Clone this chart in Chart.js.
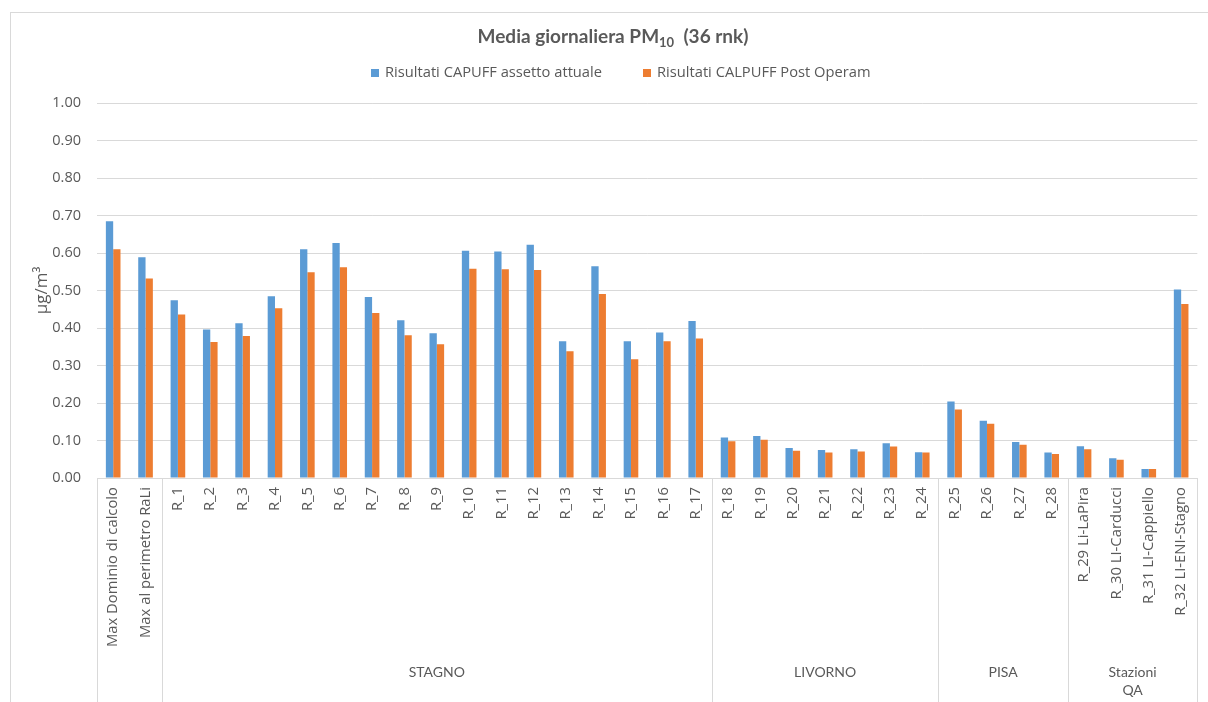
<!DOCTYPE html>
<html>
<head>
<meta charset="utf-8">
<script src="https://cdn.jsdelivr.net/npm/chart.js@4.4.1/dist/chart.umd.min.js"></script>
<style>
  html, body { margin: 0; padding: 0; background: #ffffff; }
  #wrap { position: relative; width: 1208px; height: 702px; }
</style>
</head>
<body>
<div id="wrap"><canvas id="chart" width="1208" height="702"></canvas></div>
<script>
// Receptor categories (inner axis level)
const categories = [
  'Max Dominio di calcolo', 'Max al perimetro RaLi',
  'R_1', 'R_2', 'R_3', 'R_4', 'R_5', 'R_6', 'R_7', 'R_8', 'R_9', 'R_10',
  'R_11', 'R_12', 'R_13', 'R_14', 'R_15', 'R_16', 'R_17',
  'R_18', 'R_19', 'R_20', 'R_21', 'R_22', 'R_23', 'R_24',
  'R_25', 'R_26', 'R_27', 'R_28',
  'R_29 Li-LaPira', 'R_30 LI-Carducci', 'R_31 LI-Cappiello', 'R_32 LI-ENI-Stagno'
];

// Outer axis level: group names and how many categories each spans
const groupNames = [[''], ['STAGNO'], ['LIVORNO'], ['PISA'], ['Stazioni', 'QA']];
const groupSizes = [2, 17, 7, 4, 4];

// Series values, µg/m³
const attuale = [
  0.685, 0.589,
  0.474, 0.396, 0.413, 0.485, 0.610, 0.627, 0.483, 0.421, 0.386, 0.606,
  0.604, 0.622, 0.365, 0.565, 0.365, 0.388, 0.419,
  0.108, 0.112, 0.080, 0.075, 0.077, 0.093, 0.069,
  0.204, 0.153, 0.096, 0.068,
  0.085, 0.053, 0.024, 0.503
];
const postOperam = [
  0.610, 0.532,
  0.436, 0.363, 0.379, 0.453, 0.549, 0.562, 0.440, 0.381, 0.357, 0.558,
  0.557, 0.555, 0.338, 0.491, 0.317, 0.365, 0.372,
  0.098, 0.102, 0.073, 0.068, 0.071, 0.084, 0.068,
  0.183, 0.145, 0.089, 0.064,
  0.077, 0.049, 0.024, 0.464
];

const seriesLabels = ['Risultati CAPUFF assetto attuale', 'Risultati CALPUFF Post Operam'];
const seriesColors = ['#5B9BD5', '#ED7D31'];
const yTicks = [0, 0.1, 0.2, 0.3, 0.4, 0.5, 0.6, 0.7, 0.8, 0.9, 1.0];

const TEXT = '#595959';
const GRID = '#D9D9D9';
const FONT = 'Lato, "Open Sans", sans-serif';
const FONT_WIDE = '"Open Sans", Lato, sans-serif';

// Draws the frame, title, legend, y-axis title and the grouped category axis
const decorations = {
  id: 'decorations',
  afterDraw(chart) {
    const ctx = chart.ctx;
    const area = chart.chartArea;
    const x = chart.scales.x;
    ctx.save();

    // chart frame
    ctx.strokeStyle = GRID;
    ctx.lineWidth = 1;
    ctx.strokeRect(10.5, 12.5, 1300, 800);

    // title with subscript
    const cx = 613;
    const parts = [
      { t: 'Media giornaliera PM', f: 'bold 19px ' + FONT, dy: 0 },
      { t: '10', f: 'bold 13px ' + FONT, dy: 4 },
      { t: '  (36 rnk)', f: 'bold 19px ' + FONT, dy: 0 }
    ];
    let total = 0;
    parts.forEach(p => { ctx.font = p.f; p.w = ctx.measureText(p.t).width; total += p.w; });
    let tx = cx - total / 2;
    ctx.fillStyle = TEXT;
    ctx.textBaseline = 'alphabetic';
    ctx.textAlign = 'left';
    parts.forEach(p => { ctx.font = p.f; ctx.fillText(p.t, tx, 43 + p.dy); tx += p.w; });

    // legend
    ctx.font = '14.7px ' + FONT_WIDE;
    ctx.textBaseline = 'middle';
    const legX = [371, 643];
    chart.data.datasets.forEach((ds, i) => {
      ctx.fillStyle = ds.backgroundColor;
      ctx.fillRect(legX[i], 69, 8, 8);
      ctx.fillStyle = TEXT;
      ctx.fillText(ds.label, legX[i] + 14, 73);
    });

    // y-axis title
    ctx.save();
    ctx.translate(42, (area.top + area.bottom) / 2);
    ctx.rotate(-Math.PI / 2);
    ctx.textAlign = 'center';
    ctx.textBaseline = 'middle';
    ctx.font = '17px ' + FONT_WIDE;
    ctx.fillStyle = TEXT;
    ctx.fillText('\u00B5g/m\u00B3', 0, 0);
    ctx.restore();

    // group separators and group labels
    const step = x.getPixelForValue(1) - x.getPixelForValue(0);
    const edge = i => x.getPixelForValue(i) - step / 2;
    ctx.strokeStyle = GRID;
    ctx.beginPath();
    let start = 0;
    const bounds = [start];
    groupSizes.forEach(n => { start += n; bounds.push(start); });
    bounds.forEach(b => {
      const px = Math.round(edge(b)) + 0.5;
      ctx.moveTo(px, area.bottom);
      ctx.lineTo(px, 702);
    });
    ctx.stroke();

    ctx.fillStyle = TEXT;
    ctx.font = '14px ' + FONT;
    ctx.textAlign = 'center';
    ctx.textBaseline = 'middle';
    groupNames.forEach((lines, g) => {
      const mid = (edge(bounds[g]) + edge(bounds[g + 1])) / 2;
      lines.forEach((ln, k) => ctx.fillText(ln, mid, 672 + k * 18));
    });

    ctx.restore();
  }
};

new Chart(document.getElementById('chart'), {
  type: 'bar',
  data: {
    labels: categories,
    datasets: [
      { label: seriesLabels[0], data: attuale, backgroundColor: seriesColors[0] },
      { label: seriesLabels[1], data: postOperam, backgroundColor: seriesColors[1] }
    ]
  },
  options: {
    responsive: false,
    animation: false,
    layout: { padding: { top: 103, right: 6, left: 0, bottom: 0 } },
    plugins: {
      legend: { display: false },
      title: { display: false },
      tooltip: { enabled: false }
    },
    datasets: { bar: { categoryPercentage: 0.452, barPercentage: 1.0 } },
    scales: {
      x: {
        grid: { display: false, drawTicks: false },
        border: { display: true, color: GRID, width: 1 },
        ticks: {
          autoSkip: false, minRotation: 90, maxRotation: 90,
          padding: 9, color: TEXT, font: { family: FONT_WIDE, size: 14.8 }
        },
        afterFit(scale) { scale.height = 224; }
      },
      y: {
        min: 0, max: 1,
        afterBuildTicks(scale) { scale.ticks = yTicks.map(v => ({ value: v })); },
        grid: { color: GRID, drawTicks: false },
        border: { display: false },
        ticks: {
          padding: 16, color: TEXT, font: { family: FONT_WIDE, size: 14.5 },
          callback: v => v.toFixed(2)
        },
        afterFit(scale) { scale.width = 97; }
      }
    }
  },
  plugins: [decorations]
});
</script>
</body>
</html>
